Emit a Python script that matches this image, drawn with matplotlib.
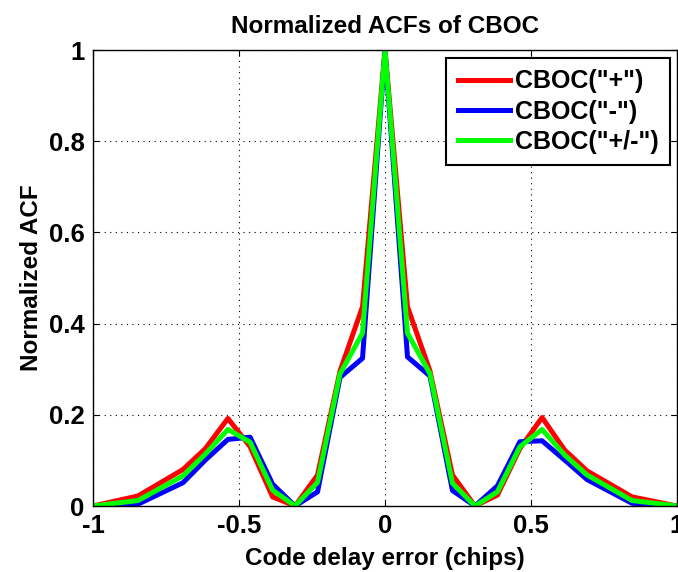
import matplotlib
matplotlib.use("Agg")
import matplotlib.pyplot as plt

delay = [-1, -0.846, -0.692, -0.615, -0.538, -0.462, -0.385, -0.308, -0.231, -0.154, -0.077, 0,
         0.077, 0.154, 0.231, 0.308, 0.385, 0.462, 0.538, 0.615, 0.692, 0.846, 1]
acf_plus = [0, 0.022, 0.080, 0.126, 0.192, 0.130, 0.020, 0.0, 0.068, 0.296, 0.437, 1,
            0.437, 0.296, 0.068, 0.0, 0.024, 0.126, 0.194, 0.123, 0.077, 0.020, 0]
acf_minus = [0, 0.004, 0.051, 0.101, 0.146, 0.151, 0.048, 0.0, 0.031, 0.282, 0.324, 1,
             0.327, 0.285, 0.034, 0.0, 0.044, 0.141, 0.143, 0.101, 0.058, 0.006, 0]
acf_pm = [0, 0.012, 0.066, 0.114, 0.168, 0.140, 0.035, 0.0, 0.052, 0.290, 0.379, 1,
          0.379, 0.290, 0.050, 0.0, 0.031, 0.130, 0.168, 0.112, 0.068, 0.012, 0]
labels = ['CBOC("+")', 'CBOC("-")', 'CBOC("+/-")']
xticks = [-1, -0.5, 0, 0.5, 1]
xticklabels = ["-1", "-0.5", "0", "0.5", "1"]
yticks = [0, 0.2, 0.4, 0.6, 0.8, 1]
yticklabels = ["0", "0.2", "0.4", "0.6", "0.8", "1"]

plt.rcParams['font.family'] = ['Liberation Sans', 'DejaVu Sans']

fig = plt.figure(figsize=(6.78, 5.72), dpi=100)
ax = fig.add_axes([93/678, 1 - 506/572, (677 - 93)/678, (506 - 50)/572])

lw = 3.6
ax.plot(delay, acf_plus, color=(1, 0, 0), lw=lw, label=labels[0])
ax.plot(delay, acf_minus, color=(0, 0, 1), lw=lw, label=labels[1])
ax.plot(delay, acf_pm, color=(0, 1, 0), lw=lw, label=labels[2])

ax.set_xlim(-1, 1)
ax.set_ylim(0, 1)
ax.set_xticks(xticks)
ax.set_xticklabels(xticklabels)
ax.set_yticks(yticks)
ax.set_yticklabels(yticklabels)
ax.tick_params(direction='in', length=4, width=0.8, labelsize=18.5, top=True, right=True, pad=6)
for lab in ax.get_xticklabels() + ax.get_yticklabels():
    lab.set_fontweight('bold')
ax.grid(True, color='black', linestyle=(0, (1, 4)), linewidth=0.8)
for s in ax.spines.values():
    s.set_linewidth(1.0)

ax.set_title("Normalized ACFs of CBOC", fontsize=17.5, fontweight='bold', pad=12)
ax.set_xlabel("Code delay error (chips)", fontsize=17.5, fontweight='bold', labelpad=6)
ax.set_ylabel("Normalized ACF", fontsize=17.5, fontweight='bold', labelpad=4)

leg = ax.legend(loc='upper right', bbox_to_anchor=(670/678, 1 - 58/572), bbox_transform=fig.transFigure,
                prop={'size': 18, 'weight': 'bold'}, frameon=True, fancybox=False,
                edgecolor='black', framealpha=1, handlelength=2.1, handletextpad=0.2,
                borderpad=0.45, labelspacing=0.25, borderaxespad=0)
leg.get_frame().set_linewidth(1.5)

fig.savefig("out.png", dpi=100)
